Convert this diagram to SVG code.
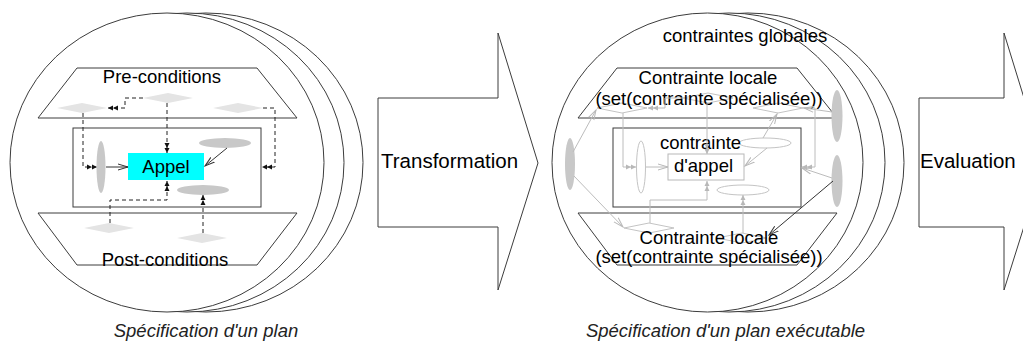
<svg xmlns="http://www.w3.org/2000/svg" width="1023" height="345" viewBox="0 0 1023 345">
<style>
.ln{fill:#fff;stroke:#3c3c3c;stroke-width:1}
.t{font-family:"Liberation Sans",Arial,sans-serif;font-size:18.5px;fill:#000}
.tc{text-anchor:middle}
.cap{font-style:italic;fill:#222}
.dia{fill:#e4e4e4;stroke:none}
.diaR{fill:none;stroke:#c4c4c4;stroke-width:1}
.ell{fill:#c8c8c8;stroke:none}
.ellR{fill:none;stroke:#c4c4c4;stroke-width:1}
.dash{fill:none;stroke:#222;stroke-width:1;stroke-dasharray:4,3}
.sol{fill:none;stroke:#333;stroke-width:1}
.g{fill:none;stroke:#bcbcbc;stroke-width:1}
</style>
<defs>
<marker id="dbl" markerUnits="userSpaceOnUse" markerWidth="11" markerHeight="6" refX="10" refY="3" orient="auto"><path d="M0,0.5 L5,3 L0,5.5 Z M5,0.5 L10,3 L5,5.5 Z" fill="#111"/></marker>
<marker id="dblG" markerUnits="userSpaceOnUse" markerWidth="11" markerHeight="6" refX="10" refY="3" orient="auto"><path d="M0,0.5 L5,3 L0,5.5 Z M5,0.5 L10,3 L5,5.5 Z" fill="#b8b8b8"/></marker>
<marker id="open" markerUnits="userSpaceOnUse" markerWidth="12" markerHeight="8" refX="10" refY="4" orient="auto"><path d="M0,1 L10,4 L0,7" fill="none" stroke="#333" stroke-width="1"/></marker>
<marker id="openG" markerUnits="userSpaceOnUse" markerWidth="12" markerHeight="8" refX="10" refY="4" orient="auto"><path d="M0,1 L10,4 L0,7" fill="none" stroke="#b8b8b8" stroke-width="1"/></marker>
</defs>

<g id="plan">
<ellipse class="ln" cx="206" cy="162.5" rx="157" ry="149.5"/>
<ellipse class="ln" cx="187" cy="162.5" rx="157" ry="149.5"/>
<ellipse class="ln" cx="167" cy="162.5" rx="157" ry="149.5"/>
</g>
<g id="preconditions">
<polygon class="ln" points="77,68 257,68 297,118 38,118"/>
<polygon class="dia" points="57,108 82,103 107,108 82,113"/>
<polygon class="dia" points="143,98 168,93 193,98 168,103"/>
<polygon class="dia" points="213,108 238,103 263,108 238,113"/>
<text class="t tc" x="162" y="83">Pre-conditions</text>
</g>
<g id="postconditions">
<polygon class="ln" points="38,213 297,213 257,265 77,265"/>
<polygon class="dia" points="84,228 109,223 134,228 109,233"/>
<polygon class="dia" points="177,238 202,233 227,238 202,243"/>
<text class="t tc" x="165" y="266">Post-conditions</text>
</g>
<g id="corps">
<rect class="ln" x="73" y="128" width="188" height="79"/>
<ellipse class="ell" cx="101" cy="167" rx="4.5" ry="26"/>
<ellipse class="ell" cx="225" cy="143" rx="26" ry="5"/>
<ellipse class="ell" cx="203" cy="190" rx="26" ry="5"/>
</g>
<g id="appel">
<rect x="128" y="153" width="76" height="27" fill="#00ffff"/>
<text class="t tc" x="166" y="173">Appel</text>
</g>
<text class="t cap tc" x="206" y="337">Spécification d'un plan</text>

<g id="transformation">
<polygon class="ln" points="378,98 498,98 498,33 538,163 498,290 498,227 378,227"/>
<text class="t" x="381" y="168" style="font-size:20.5px">Transformation</text>
</g>

<g id="plan-executable">
<ellipse class="ln" cx="748" cy="162.5" rx="156" ry="149.5"/>
<ellipse class="ln" cx="729" cy="162.5" rx="156" ry="149.5"/>
<ellipse class="ln" cx="707.5" cy="162.5" rx="155.5" ry="149.5"/>
<text class="t tc" x="745" y="42">contraintes globales</text>
</g>
<g id="contrainte-locale-haut">
<polygon class="ln" points="617,68 797,68 837,118 578,118"/>
<polygon class="diaR" points="597,108 622,103 647,108 622,113"/>
<polygon class="diaR" points="683,98 708,93 733,98 708,103"/>
<polygon class="diaR" points="753,108 778,103 803,108 778,113"/>
<text class="t tc" x="708" y="84">Contrainte locale</text>
<text class="t tc" x="709" y="105">(set(contrainte spécialisée))</text>
</g>
<g id="contrainte-locale-bas">
<polygon class="ln" points="578,213 837,213 797,265 617,265"/>
<polygon class="diaR" points="624,228 649,223 674,228 649,233"/>
<polygon class="diaR" points="717,238 742,233 767,238 742,243"/>
<text class="t tc" x="709" y="244">Contrainte locale</text>
<text class="t tc" x="709" y="263">(set(contrainte spécialisée))</text>
</g>
<g id="corps-executable">
<rect class="ln" x="613" y="128" width="188" height="79"/>
<ellipse class="ellR" cx="641" cy="167" rx="4.5" ry="26"/>
<ellipse class="ellR" cx="765" cy="143" rx="26" ry="5"/>
<ellipse class="ellR" cx="743" cy="190" rx="26" ry="5"/>
</g>
<g id="contrainte-appel">
<rect x="668" y="154" width="76" height="26" fill="#fff" stroke="#b8b8b8" stroke-width="1"/>
<text class="t tc" x="700.5" y="149">contrainte</text>
<text class="t tc" x="703.5" y="172">d'appel</text>
</g>
<g id="globales">
<ellipse class="ell" cx="570" cy="164" rx="5" ry="26"/>
<ellipse class="ell" cx="837" cy="116" rx="5.5" ry="26"/>
<ellipse class="ell" cx="837" cy="181" rx="5.5" ry="26"/>
</g>
<text class="t cap tc" x="725.5" y="337">Spécification d'un plan exécutable</text>

<g id="evaluation">
<polygon class="ln" points="919,98 1004,98 1004,33 1044,163 1004,290 1004,227 919,227"/>
<text class="t" x="920" y="168" style="font-size:20.5px">Evaluation</text>
</g>

<g id="connecteurs">
<path class="dash" d="M143,98 H125 V108 H108" marker-end="url(#dbl)"/>
<path class="dash" d="M167,103 V153" marker-end="url(#dbl)"/>
<path class="dash" d="M83,113 V167 H97" marker-end="url(#dbl)"/>
<path class="dash" d="M263,108 H275 V167 H262" marker-end="url(#dbl)"/>
<path class="dash" d="M110,223 V200 H167 V181" marker-end="url(#dbl)"/>
<path class="dash" d="M203,233 V195" marker-end="url(#dbl)"/>
<path class="sol" d="M106,167 H128" marker-end="url(#open)"/>
<path class="sol" d="M227,148 L205,166" marker-end="url(#open)"/>

<path class="g" d="M683,98 H665 V108 H648" marker-end="url(#dblG)"/>
<path class="g" d="M707,103 V154" marker-end="url(#dblG)"/>
<path class="g" d="M623,113 V167 H636" marker-end="url(#dblG)"/>
<path class="g" d="M803,108 H815 V167 H802" marker-end="url(#dblG)"/>
<path class="g" d="M650,223 V200 H707 V181" marker-end="url(#dblG)"/>
<path class="g" d="M743,233 V195" marker-end="url(#dblG)"/>
<path class="g" d="M646,167 H668" marker-end="url(#openG)"/>
<path class="g" d="M767,148 L745,166" marker-end="url(#openG)"/>
<path class="g" d="M573,152 L596,110" marker-end="url(#openG)"/>
<path class="g" d="M574,176 L623,227" marker-end="url(#openG)"/>
<path class="g" d="M763,138 L777,114" marker-end="url(#openG)"/>
<path class="g" d="M832,112 L804,108" marker-end="url(#openG)"/>
<path class="g" d="M832,178 L802,168" marker-end="url(#openG)"/>
<path class="sol" d="M833,181 L769,235" marker-end="url(#open)"/>
</g>
</svg>
